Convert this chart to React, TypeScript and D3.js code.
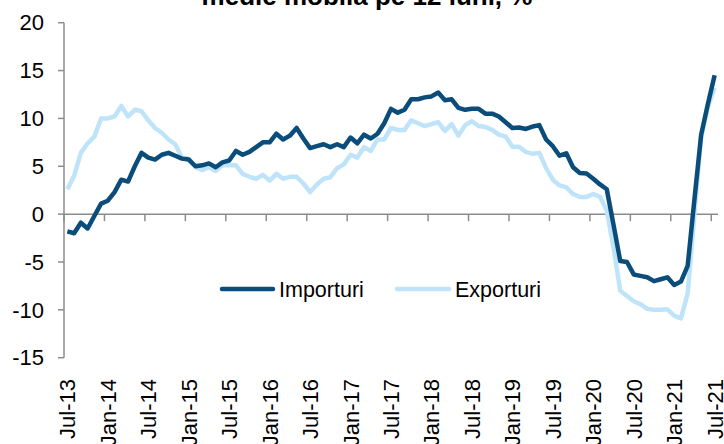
import React from "react";
import * as d3 from "d3";

// 97 monthly categories, Jul-13 .. Jul-21
const months: Date[] = d3.timeMonths(new Date(2013, 6, 1), new Date(2021, 7, 1));
const tickLabels = ["Jul-13","Jan-14","Jul-14","Jan-15","Jul-15","Jan-16","Jul-16","Jan-17","Jul-17","Jan-18","Jul-18","Jan-19","Jul-19","Jan-20","Jul-20","Jan-21","Jul-21"];
const yTicks = [-15, -10, -5, 0, 5, 10, 15, 20];

const importuri = [
  -1.8, -2.0, -0.9, -1.5, -0.2, 1.1, 1.4, 2.3, 3.6, 3.4, 5.0, 6.4, 5.9, 5.7, 6.2, 6.4, 6.1, 5.8, 5.7, 5.0,
  5.1, 5.3, 4.9, 5.4, 5.6, 6.6, 6.2, 6.5, 7.0, 7.5, 7.5, 8.4, 7.8, 8.2, 9.0, 7.9, 6.9, 7.1, 7.3, 7.0,
  7.3, 7.0, 8.0, 7.4, 8.3, 7.9, 8.4, 9.5, 11.0, 10.6, 10.9, 12.0, 12.0, 12.2, 12.3, 12.7, 11.9, 12.0, 11.1, 10.9,
  11.0, 11.0, 10.5, 10.5, 10.2, 9.6, 9.0, 9.05, 8.9, 9.15, 9.3, 7.8, 7.1, 6.1, 6.35, 4.9, 4.3, 4.25, 3.7, 3.1,
  2.6, -1.1, -4.9, -5.0, -6.3, -6.45, -6.6, -7.0, -6.8, -6.6, -7.4, -7.05, -5.4, 1.5, 8.3, 11.5, 14.5,
];

const exporturi = [
  2.6, 4.0, 6.4, 7.4, 8.1, 10.0, 10.0, 10.2, 11.3, 10.2, 10.9, 10.75, 9.8, 9.0, 8.5, 7.8, 7.3, 5.9, 5.8, 4.9,
  4.6, 4.9, 4.5, 5.1, 5.1, 5.1, 4.2, 3.9, 3.7, 4.1, 3.5, 4.2, 3.7, 3.9, 3.9, 3.2, 2.3, 3.1, 3.7, 3.85,
  4.8, 5.2, 6.2, 5.9, 7.0, 6.6, 7.8, 7.8, 9.0, 8.8, 8.8, 9.8, 9.5, 9.2, 9.4, 9.6, 8.7, 9.4, 8.2, 9.3,
  9.7, 9.2, 9.1, 8.8, 8.3, 8.1, 7.05, 7.05, 6.5, 6.3, 6.4, 4.8, 3.6, 3.0, 2.8, 2.1, 1.8, 1.8, 2.1, 1.8,
  0.4, -3.5, -8.0, -8.55, -9.1, -9.4, -9.9, -10.0, -10.0, -9.95, -10.6, -10.9, -8.3, 0.0, 8.0, 11.2, 13.2,
];

const seriesNames = ["Importuri", "Exporturi"];
const colors = ["#0a4c7a", "#bfe4fa"];

const W = 724, H = 444;
const M = { left: 64, right: 718, top: 22.7, bottom: 357.7 };
const FONT = "Arial, 'Liberation Sans', sans-serif";
const FS = 22;

export default function App() {
  const x = d3.scaleBand<number>().domain(months.map((_, i) => i)).range([M.left, M.right]).padding(0);
  const y = d3.scaleLinear().domain([-15, 20]).range([M.bottom, M.top]);
  const cx = (i: number) => (x(i) as number) + x.bandwidth() / 2;
  const line = d3.line<number>().x((_, i) => cx(i)).y((d) => y(d));
  const axisColor = "#8c8c8c";
  const tickIdx = tickLabels.map((_, k) => k * 6);

  return (
    <svg width={W} height={H} style={{ position: "absolute", left: 0, top: 0, background: "#fff" }} fontFamily={FONT}>
      <text x={367} y={5} textAnchor="middle" fontSize={26} fontWeight="bold" fill="#000">medie mobilă pe 12 luni, %</text>

      {/* y axis */}
      <line x1={M.left} x2={M.left} y1={M.top} y2={M.bottom} stroke={axisColor} strokeWidth={1.5} />
      {yTicks.map((t) => (
        <g key={t}>
          <line x1={M.left - 6} x2={M.left} y1={y(t)} y2={y(t)} stroke={axisColor} strokeWidth={1.5} />
          <text x={44} y={y(t)} dy="0.35em" textAnchor="end" fontSize={FS} fill="#000">{t}</text>
        </g>
      ))}

      {/* x axis at zero */}
      <line x1={M.left} x2={M.right} y1={y(0)} y2={y(0)} stroke={axisColor} strokeWidth={1.5} />
      {tickIdx.map((i) => (
        <line key={i} x1={x(i) as number} x2={x(i) as number} y1={y(0)} y2={y(0) + 7} stroke={axisColor} strokeWidth={1.5} />
      ))}
      {tickLabels.map((lab, k) => {
        const px = cx(k * 6);
        return (
          <text key={lab} transform={`translate(${px + 8},379) rotate(-90)`} textAnchor="end" fontSize={FS} fill="#000">{lab}</text>
        );
      })}

      {/* lines */}
      <path d={line(exporturi) || ""} fill="none" stroke={colors[1]} strokeWidth={4.5} strokeLinejoin="round" />
      <path d={line(importuri) || ""} fill="none" stroke={colors[0]} strokeWidth={4.5} strokeLinejoin="round" />

      {/* legend */}
      <line x1={222} x2={273} y1={289} y2={289} stroke={colors[0]} strokeWidth={4.5} strokeLinecap="round" />
      <text x={279} y={289} dy="0.35em" fontSize={21.5} fill="#000">{seriesNames[0]}</text>
      <line x1={397} x2={449} y1={289} y2={289} stroke={colors[1]} strokeWidth={4.5} strokeLinecap="round" />
      <text x={455} y={289} dy="0.35em" fontSize={21.5} fill="#000">{seriesNames[1]}</text>
    </svg>
  );
}
